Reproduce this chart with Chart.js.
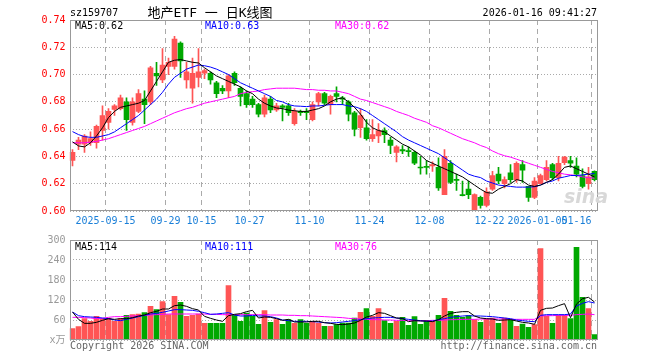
<!DOCTYPE html>
<html>
<head>
<meta charset="utf-8">
<script src="https://cdn.jsdelivr.net/npm/chart.js@4.4.1/dist/chart.umd.min.js"></script>
<style>
html, body { margin: 0; padding: 0; background: #fff; }
#wrap { position: relative; width: 660px; height: 360px; overflow: hidden;
        font-family: 'DejaVu Sans Mono', 'Noto Sans CJK SC', monospace; font-size: 10px; }
#wrap canvas { position: absolute; left: 0; }
.t { position: absolute; white-space: pre; line-height: 12px; }
</style>
</head>
<body>
<div id="wrap">
  <canvas id="kline" width="660" height="232" style="top:0"></canvas>
  <canvas id="vol" width="660" height="130" style="top:230px"></canvas>

  <div class="t" style="left:70px;top:7px">sz159707</div>
  <div class="t" style="left:140px;top:5px;width:140px;text-align:center;font-size:13px;line-height:15px">地产ETF 一 日K线图</div>
  <div class="t" style="left:397px;top:7px;width:200px;text-align:right">2026-01-16 09:41:27</div>

  <div class="t" style="left:75px;top:20px;color:#000">MA5:0.62</div>
  <div class="t" style="left:205px;top:20px;color:#00f">MA10:0.63</div>
  <div class="t" style="left:335px;top:20px;color:#f0f">MA30:0.62</div>

  <div class="t" style="left:75px;top:241px;color:#000">MA5:114</div>
  <div class="t" style="left:205px;top:241px;color:#00f">MA10:111</div>
  <div class="t" style="left:335px;top:241px;color:#f0f">MA30:76</div>

  <div class="t" style="left:564px;top:185px;font:italic bold 19px 'DejaVu Sans';color:#d8d8d8">sina</div>

  <div class="t" style="left:70px;top:340px;color:#666">Copyright 2026 SINA.COM</div>
  <div class="t" style="left:397px;top:340px;width:200px;text-align:right;color:#666">http://finance.sina.com.cn</div>
</div>

<script>
const dates = [
  '2025-09-05','2025-09-08','2025-09-09','2025-09-10','2025-09-11','2025-09-12',
  '2025-09-15','2025-09-16','2025-09-17','2025-09-18','2025-09-19',
  '2025-09-22','2025-09-23','2025-09-24','2025-09-25','2025-09-26',
  '2025-09-29','2025-09-30','2025-10-09','2025-10-10',
  '2025-10-13','2025-10-14','2025-10-15','2025-10-16','2025-10-17',
  '2025-10-20','2025-10-21','2025-10-22','2025-10-23','2025-10-24',
  '2025-10-27','2025-10-28','2025-10-29','2025-10-30','2025-10-31',
  '2025-11-03','2025-11-04','2025-11-05','2025-11-06','2025-11-07',
  '2025-11-10','2025-11-11','2025-11-12','2025-11-13','2025-11-14',
  '2025-11-17','2025-11-18','2025-11-19','2025-11-20','2025-11-21',
  '2025-11-24','2025-11-25','2025-11-26','2025-11-27','2025-11-28',
  '2025-12-01','2025-12-02','2025-12-03','2025-12-04','2025-12-05',
  '2025-12-08','2025-12-09','2025-12-10','2025-12-11','2025-12-12',
  '2025-12-15','2025-12-16','2025-12-17','2025-12-18','2025-12-19',
  '2025-12-22','2025-12-23','2025-12-24','2025-12-25','2025-12-26',
  '2025-12-29','2025-12-30','2025-12-31',
  '2026-01-05','2026-01-06','2026-01-07','2026-01-08','2026-01-09',
  '2026-01-12','2026-01-13','2026-01-14','2026-01-15','2026-01-16'
];

const tickDates = ['2025-09-15','2025-09-29','2025-10-15','2025-10-27','2025-11-10',
                   '2025-11-24','2025-12-08','2025-12-22','2026-01-05','2026-01-16'];
const tickTexts = ['2025-09-15','09-29','10-15','10-27','11-10',
                   '11-24','12-08','12-22','2026-01-05','01-16'];

const opens  = [0.637,0.649,0.649,0.650,0.650,0.659,0.665,0.6745,0.675,0.680,
                0.665,0.673,0.682,0.680,0.701,0.696,0.706,0.706,0.723,0.696,
                0.690,0.698,0.701,0.701,0.694,0.690,0.688,0.701,0.690,0.686,
                0.682,0.678,0.671,0.682,0.674,0.677,0.677,0.664,0.673,0.673,
                0.667,0.680,0.686,0.678,0.686,0.683,0.680,0.672,0.661,0.661,
                0.653,0.655,0.659,0.652,0.643,0.645,0.644,0.643,0.632,0.6325,
                0.633,0.632,0.612,0.635,0.623,0.6117,0.616,0.601,0.610,0.604,
                0.616,0.627,0.620,0.628,0.623,0.634,0.618,0.610,0.620,0.623,
                0.634,0.6245,0.6355,0.637,0.633,0.626,0.620,0.629];
const highs  = [0.645,0.654,0.656,0.658,0.663,0.677,0.675,0.678,0.685,0.683,
                0.683,0.689,0.688,0.706,0.709,0.719,0.712,0.728,0.724,0.709,
                0.712,0.719,0.704,0.702,0.695,0.692,0.700,0.702,0.691,0.688,
                0.684,0.679,0.685,0.684,0.679,0.678,0.679,0.675,0.674,0.675,
                0.680,0.687,0.687,0.685,0.691,0.684,0.681,0.673,0.675,0.667,
                0.667,0.664,0.661,0.654,0.648,0.648,0.647,0.644,0.640,0.637,
                0.636,0.639,0.645,0.637,0.627,0.622,0.622,0.6125,0.611,0.617,
                0.629,0.632,0.625,0.634,0.636,0.637,0.618,0.6245,0.627,0.637,
                0.635,0.640,0.640,0.640,0.639,0.631,0.632,0.6295];
const lows   = [0.633,0.645,0.643,0.648,0.646,0.652,0.660,0.670,0.674,0.659,
                0.663,0.672,0.664,0.678,0.692,0.694,0.700,0.704,0.698,0.690,
                0.679,0.691,0.697,0.693,0.683,0.686,0.683,0.692,0.677,0.676,
                0.676,0.669,0.669,0.672,0.673,0.666,0.670,0.663,0.670,0.667,
                0.666,0.677,0.678,0.671,0.680,0.678,0.666,0.655,0.654,0.652,
                0.651,0.650,0.650,0.642,0.636,0.642,0.640,0.634,0.627,0.627,
                0.629,0.615,0.612,0.620,0.615,0.611,0.609,0.600,0.602,0.603,
                0.615,0.620,0.617,0.621,0.621,0.621,0.607,0.609,0.620,0.622,
                0.623,0.622,0.634,0.632,0.625,0.617,0.616,0.622];
const closes = [0.643,0.652,0.655,0.653,0.662,0.670,0.673,0.677,0.683,0.667,
                0.680,0.686,0.678,0.705,0.699,0.707,0.709,0.726,0.710,0.702,
                0.701,0.702,0.703,0.696,0.686,0.688,0.699,0.694,0.684,0.678,
                0.678,0.671,0.683,0.674,0.677,0.676,0.672,0.673,0.672,0.672,
                0.678,0.686,0.679,0.684,0.684,0.682,0.671,0.660,0.670,0.653,
                0.656,0.659,0.656,0.648,0.647,0.644,0.6435,0.635,0.6315,0.632,
                0.634,0.617,0.640,0.621,0.6225,0.6113,0.612,0.612,0.604,0.614,
                0.626,0.622,0.623,0.623,0.635,0.630,0.610,0.622,0.626,0.632,
                0.6245,0.635,0.6396,0.635,0.627,0.618,0.625,0.623];

const ma5  = [0.6507,0.6477,0.647,0.650,0.655,0.661,0.6685,0.673,0.676,0.677,
              0.678,0.679,0.681,0.688,0.695,0.702,0.709,0.7105,0.711,0.710,
              0.709,0.7085,0.705,0.702,0.699,0.697,0.695,0.693,0.691,0.688,
              0.686,0.682,0.679,0.677,0.6755,0.675,0.674,0.6735,0.673,0.673,
              0.674,0.675,0.677,0.680,0.682,0.683,0.680,0.676,0.671,0.665,
              0.661,0.659,0.658,0.655,0.652,0.649,0.647,0.644,0.641,0.637,
              0.635,0.633,0.631,0.629,0.627,0.625,0.622,0.619,0.616,0.6135,
              0.613,0.616,0.618,0.620,0.623,0.622,0.619,0.618,0.619,0.621,
              0.623,0.627,0.632,0.633,0.631,0.629,0.627,0.625];
const ma10 = [0.6582,0.656,0.6545,0.654,0.654,0.655,0.656,0.658,0.661,0.664,
              0.667,0.670,0.674,0.678,0.682,0.687,0.693,0.698,0.701,0.704,
              0.7055,0.707,0.7065,0.7055,0.704,0.702,0.700,0.697,0.694,0.692,
              0.690,0.688,0.686,0.684,0.681,0.680,0.678,0.677,0.6768,0.6765,
              0.677,0.677,0.6775,0.678,0.678,0.678,0.677,0.6765,0.675,0.673,
              0.670,0.667,0.664,0.661,0.658,0.6545,0.652,0.650,0.648,0.646,
              0.644,0.642,0.639,0.636,0.633,0.630,0.627,0.6255,0.6245,0.622,
              0.6205,0.619,0.6185,0.618,0.6175,0.6175,0.6175,0.6178,0.619,0.621,
              0.622,0.624,0.625,0.626,0.626,0.6265,0.627,0.6275];
const ma30 = [0.650,0.650,0.650,0.6505,0.651,0.652,0.653,0.6545,0.656,0.6575,
              0.659,0.6605,0.662,0.664,0.666,0.668,0.670,0.672,0.6735,0.675,
              0.676,0.6775,0.679,0.680,0.681,0.682,0.683,0.684,0.686,0.687,
              0.6875,0.688,0.689,0.6895,0.690,0.690,0.690,0.690,0.6895,0.689,
              0.689,0.6885,0.6885,0.688,0.688,0.687,0.686,0.684,0.682,0.681,
              0.6795,0.678,0.6765,0.675,0.673,0.6715,0.670,0.668,0.6665,0.665,
              0.6625,0.661,0.659,0.657,0.655,0.653,0.6515,0.650,0.648,0.6465,
              0.644,0.642,0.6405,0.6395,0.638,0.6365,0.635,0.6335,0.632,0.6305,
              0.629,0.628,0.627,0.6265,0.626,0.625,0.6245,0.624];

const volumes = [34,40,64,56,71,64,64,56,64,74,
                 76,78,82,101,91,115,76,131,113,71,
                 74,78,50,50,50,50,163,74,56,81,
                 71,47,88,53,61,47,61,50,61,50,
                 56,51,41,41,46,51,51,66,83,94,
                 71,94,58,50,56,68,44,70,47,58,
                 56,74,125,86,74,68,73,61,53,63,
                 66,50,66,62,41,48,38,46,274,71,
                 50,74,74,64,278,128,94,16];
const volMa5  = [84,62,50,50,53,59,64,62,64,64,
                 67,72,75,82,86,93,93,103,105,101,
                 94,90,71,65,60,56,73,77,79,85,
                 89,66,69,68,64,59,62,54,54,54,
                 56,56,52,50,47,46,48,51,59,69,
                 74,82,80,73,66,65,55,58,57,57,
                 55,61,72,80,83,85,85,72,66,64,
                 63,59,60,61,57,53,51,47,89,95,
                 96,103,109,67,108,124,128,114];
const volMa10 = [84,73,70,69,68,66,64,60,58,62,
                 66,70,74,78,80,83,87,91,91,90,
                 89,86,82,77,78,80,82,75,72,72,
                 74,72,72,70,66,60,58,56,56,56,
                 55,54,52,51,52,54,56,58,61,64,
                 66,67,68,68,66,64,62,60,58,56,
                 57,61,64,68,70,72,73,72,72,71,
                 70,68,66,64,60,58,56,55,74,76,
                 76,76,76,78,102,110,115,111];
const volMa30 = [68,68,67,66,64,65,68,70,70,71,
                 72,73,74,75,76,77,78,78,78,78,
                 78,78,78,77,77,76,76,76,76,76,
                 76,76,76,75,75,75,74,74,73,73,
                 72,71,70,69,68,67,65,64,63,62,
                 61,61,60,60,59,59,58,58,58,58,
                 59,59,60,61,61,62,62,62,63,63,
                 63,63,63,62,62,62,62,62,72,73,
                 73,74,74,74,76,77,78,76];

const UP = '#ff5555', DOWN = '#00a800';
const candleColors = closes.map((c, i) => c >= opens[i] ? UP : DOWN);

Chart.defaults.font.family = "'DejaVu Sans Mono', 'Noto Sans CJK SC', monospace";
Chart.defaults.font.size = 10;
Chart.defaults.animation = false;

// dashed day lines, frame box and date labels
const panelPlugin = {
  id: 'panel',
  beforeDatasetsDraw(chart) {
    const { ctx, chartArea: a, scales: { x } } = chart;
    const half = (x.getPixelForValue(1) - x.getPixelForValue(0)) / 2;
    ctx.save();
    ctx.strokeStyle = '#aaa';
    ctx.lineWidth = 1;
    ctx.setLineDash([5, 4]);
    tickDates.forEach(d => {
      const px = Math.floor(x.getPixelForValue(dates.indexOf(d)) - half) + 0.5;
      ctx.beginPath();
      ctx.moveTo(px, a.top);
      ctx.lineTo(px, a.bottom);
      ctx.stroke();
    });
    ctx.restore();
  },
  afterDraw(chart, args, opts) {
    const { ctx, chartArea: a, scales: { x } } = chart;
    ctx.save();
    ctx.strokeStyle = '#999';
    ctx.lineWidth = 1;
    const l = Math.round(a.left) + 0.5, t = Math.round(a.top) + 0.5;
    const r = Math.round(a.right) - 0.5, b = Math.round(a.bottom) - 0.5;
    ctx.strokeRect(l, t, r - l, b - t);
    if (opts.labels) {
      const half = (x.getPixelForValue(1) - x.getPixelForValue(0)) / 2;
      ctx.fillStyle = '#1a7fd8';
      ctx.font = "10px 'DejaVu Sans Mono', monospace";
      ctx.textBaseline = 'middle';
      tickDates.forEach((d, k) => {
        const px = Math.floor(x.getPixelForValue(dates.indexOf(d)) - half) + 0.5;
        const w = ctx.measureText(tickTexts[k]).width;
        ctx.textAlign = px + w / 2 > a.right ? 'right' : 'center';
        ctx.fillText(tickTexts[k], px, a.bottom + 10);
      });
    }
    ctx.restore();
  }
};

const lineDs = (label, data, color) => ({
  type: 'line', label, data, borderColor: color, borderWidth: 1,
  pointRadius: 0, tension: 0, order: 0
});

const yAxis = (min, max, step, color, fmt) => ({
  min, max,
  afterFit(scale) { scale.width = 69.5; },
  ticks: { stepSize: step, color, padding: 4, callback: fmt },
  grid: { color: '#aaa', lineWidth: 1, drawTicks: false },
  border: { display: false, dash: [1, 2] }
});

new Chart(document.getElementById('kline'), {
  type: 'bar',
  data: {
    labels: dates,
    datasets: [
      lineDs('MA5', ma5, '#000'),
      lineDs('MA10', ma10, '#00f'),
      lineDs('MA30', ma30, '#f0f'),
      {
        label: 'body', data: opens.map((o, i) => [o, closes[i]]),
        backgroundColor: candleColors, barThickness: 5, minBarLength: 1,
        grouped: false, order: 1
      },
      {
        label: 'wick', data: lows.map((l, i) => [l, highs[i]]),
        backgroundColor: candleColors, barThickness: 1,
        grouped: false, order: 2
      }
    ]
  },
  options: {
    responsive: false,
    layout: { padding: { top: 20, right: 62.5, bottom: 21, left: 0 } },
    plugins: { legend: { display: false }, tooltip: { enabled: false }, panel: { labels: true } },
    scales: {
      x: { display: false, offset: true },
      y: yAxis(0.60, 0.74, 0.02, '#f00', v => v.toFixed(2))
    }
  },
  plugins: [panelPlugin]
});

new Chart(document.getElementById('vol'), {
  type: 'bar',
  data: {
    labels: dates,
    datasets: [
      lineDs('MA5', volMa5, '#000'),
      lineDs('MA10', volMa10, '#00f'),
      lineDs('MA30', volMa30, '#f0f'),
      {
        label: 'vol', data: volumes, backgroundColor: candleColors,
        barThickness: 5, order: 1
      }
    ]
  },
  options: {
    responsive: false,
    layout: { padding: { top: 10, right: 62.5, bottom: 20, left: 0 } },
    plugins: { legend: { display: false }, tooltip: { enabled: false }, panel: { labels: false } },
    scales: {
      x: { display: false, offset: true },
      y: yAxis(0, 300, 60, '#999', v => v === 0 ? 'x万' : v)
    }
  },
  plugins: [panelPlugin]
});
</script>
</body>
</html>
